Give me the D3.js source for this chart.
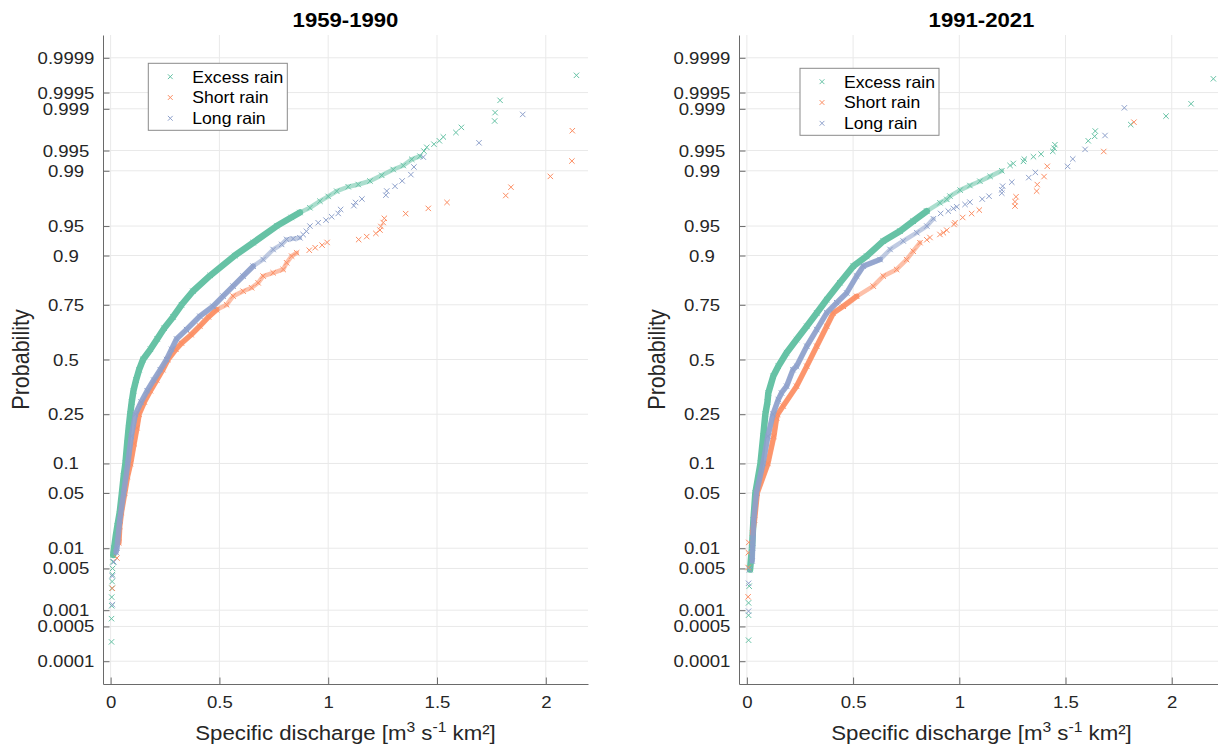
<!DOCTYPE html>
<html>
<head>
<meta charset="utf-8">
<script src="https://cdnjs.cloudflare.com/ajax/libs/d3/7.8.5/d3.min.js" type="text/javascript"></script>
<style>
body { margin: 0; background: #fff; }
svg text { font-family: "Liberation Sans", Arial, Helvetica, sans-serif; }
</style>
</head>
<body>
<div id="chart"></div>
<script type="text/javascript">
// axis ticks
var probTicks = [0.0001, 0.0005, 0.001, 0.005, 0.01, 0.05, 0.1, 0.25, 0.5, 0.75, 0.9, 0.95, 0.99, 0.995, 0.999, 0.9995, 0.9999];
var dischargeTicks = [0, 0.5, 1, 1.5, 2];
var seriesNames = ["Excess rain", "Short rain", "Long rain"];
var seriesColors = ["#66c2a5", "#fc8d62", "#8da0cb"];
var periods = ["1959-1990", "1991-2021"];

// 1959-1990 : specific discharge (q) and plotting probability (p)
var excess59Q = [0.004, 0.004, 0.005, 0.005, 0.006, 0.007, 0.008, 0.009, 0.010, 0.012, 0.016, 0.024, 0.031, 0.042, 0.052, 0.060, 0.068, 0.076, 0.083, 0.090, 0.097, 0.105, 0.117, 0.131, 0.149, 0.183, 0.214, 0.246, 0.287, 0.326, 0.378, 0.458, 0.571, 0.655, 0.763, 0.830, 0.870, 0.916, 0.962, 1.000, 1.039, 1.092, 1.138, 1.192, 1.246, 1.299, 1.345, 1.384, 1.422, 1.440, 1.453, 1.486, 1.511, 1.529, 1.587, 1.612, 1.765, 1.767, 1.790, 2.141];
var excess59P = [0.00025, 0.0007, 0.0012, 0.0017, 0.0024, 0.0031, 0.004, 0.005, 0.0063, 0.008, 0.01, 0.015, 0.02, 0.03, 0.05, 0.075, 0.1, 0.15, 0.2, 0.25, 0.3, 0.35, 0.4, 0.45, 0.5, 0.55, 0.6, 0.65, 0.7, 0.75, 0.8, 0.85, 0.9, 0.925, 0.95, 0.96, 0.965, 0.9693, 0.9745, 0.9778, 0.981, 0.9834, 0.9845, 0.9861, 0.9884, 0.9904, 0.9916, 0.9932, 0.9939, 0.9949, 0.99555, 0.99602, 0.99649, 0.99696, 0.99743, 0.99789, 0.99836, 0.99883, 0.9993, 0.99977];
var short59Q = [0.008, 0.029, 0.038, 0.042, 0.050, 0.065, 0.078, 0.092, 0.108, 0.121, 0.131, 0.155, 0.183, 0.212, 0.240, 0.264, 0.300, 0.326, 0.370, 0.410, 0.450, 0.487, 0.533, 0.563, 0.609, 0.648, 0.678, 0.701, 0.747, 0.793, 0.809, 0.832, 0.855, 0.913, 0.940, 0.972, 0.995, 1.140, 1.177, 1.219, 1.238, 1.242, 1.253, 1.258, 1.356, 1.460, 1.546, 1.816, 1.840, 2.021, 2.120, 2.122];
var short59P = [0.0024, 0.0072, 0.012, 0.02, 0.03, 0.05, 0.075, 0.1, 0.15, 0.2, 0.25, 0.3, 0.35, 0.4, 0.45, 0.5, 0.55, 0.58, 0.62, 0.66, 0.7, 0.73, 0.75, 0.7826, 0.80, 0.8117, 0.8277, 0.848, 0.8575, 0.8665, 0.8834, 0.8987, 0.9058, 0.911, 0.9159, 0.9207, 0.9255, 0.9303, 0.9351, 0.9399, 0.9447, 0.9495, 0.9543, 0.9591, 0.9639, 0.96875, 0.97356, 0.97837, 0.98317, 0.988, 0.99279, 0.9976];
var long59Q = [0.008, 0.008, 0.015, 0.025, 0.029, 0.042, 0.060, 0.079, 0.095, 0.114, 0.140, 0.168, 0.198, 0.228, 0.257, 0.280, 0.303, 0.349, 0.410, 0.471, 0.517, 0.563, 0.609, 0.655, 0.701, 0.747, 0.786, 0.809, 0.839, 0.870, 0.885, 0.900, 0.916, 0.954, 0.990, 1.016, 1.046, 1.057, 1.118, 1.126, 1.155, 1.265, 1.269, 1.307, 1.340, 1.380, 1.394, 1.437, 1.693, 1.894];
var long59P = [0.00126, 0.0038, 0.0063, 0.0088, 0.01, 0.024, 0.05, 0.1, 0.172, 0.25, 0.3, 0.35, 0.4, 0.45, 0.5, 0.55, 0.6, 0.644, 0.703, 0.744, 0.7826, 0.817, 0.848, 0.875, 0.8912, 0.9124, 0.922, 0.9306, 0.9318, 0.9332, 0.9382, 0.943, 0.95, 0.9541, 0.9571, 0.9608, 0.9641, 0.9678, 0.97103, 0.97355, 0.97607, 0.97859, 0.98111, 0.98363, 0.98615, 0.98866, 0.99118, 0.9937, 0.99622, 0.99874];

// 1991-2021
var excess91Q = [0.008, 0.008, 0.008, 0.011, 0.015, 0.024, 0.031, 0.040, 0.064, 0.077, 0.087, 0.097, 0.101, 0.124, 0.148, 0.187, 0.234, 0.282, 0.329, 0.376, 0.438, 0.501, 0.564, 0.642, 0.721, 0.783, 0.847, 0.909, 0.941, 0.956, 1.004, 1.050, 1.097, 1.145, 1.200, 1.239, 1.254, 1.302, 1.306, 1.349, 1.385, 1.440, 1.446, 1.450, 1.607, 1.637, 1.640, 1.807, 1.973, 2.091, 2.196];
var excess91P = [0.00027, 0.00081, 0.00135, 0.0026, 0.0048, 0.01, 0.024, 0.05, 0.1, 0.172, 0.25, 0.3, 0.34, 0.418, 0.467, 0.533, 0.597, 0.659, 0.717, 0.770, 0.828, 0.875, 0.8987, 0.9277, 0.9432, 0.9559, 0.9663, 0.9733, 0.9758, 0.978, 0.9816, 0.984, 0.986, 0.988, 0.99, 0.99162, 0.99216, 0.9927, 0.99324, 0.99378, 0.99432, 0.99486, 0.99541, 0.99595, 0.99649, 0.99703, 0.99757, 0.99811, 0.99865, 0.99919, 0.99973];
var short91Q = [0.006, 0.006, 0.007, 0.009, 0.027, 0.036, 0.049, 0.099, 0.127, 0.140, 0.145, 0.171, 0.234, 0.282, 0.329, 0.376, 0.407, 0.454, 0.517, 0.595, 0.642, 0.705, 0.752, 0.783, 0.815, 0.847, 0.862, 0.909, 0.925, 0.941, 0.975, 0.980, 1.016, 1.058, 1.094, 1.262, 1.262, 1.267, 1.364, 1.367, 1.399, 1.414, 1.680, 1.822];
var short91P = [0.00172, 0.00517, 0.00862, 0.01207, 0.0163, 0.024, 0.05, 0.1, 0.172, 0.236, 0.25, 0.283, 0.371, 0.467, 0.565, 0.659, 0.717, 0.744, 0.782, 0.817, 0.848, 0.8665, 0.891, 0.909, 0.925, 0.930, 0.9337, 0.9384, 0.9409, 0.9445, 0.952, 0.9541, 0.960, 0.964, 0.96724, 0.97069, 0.97414, 0.97759, 0.98103, 0.98448, 0.98793, 0.99138, 0.99483, 0.99828];
var long91Q = [0.008, 0.008, 0.012, 0.025, 0.027, 0.032, 0.045, 0.076, 0.099, 0.123, 0.148, 0.163, 0.187, 0.217, 0.234, 0.282, 0.329, 0.376, 0.423, 0.470, 0.517, 0.548, 0.627, 0.674, 0.736, 0.800, 0.847, 0.878, 0.912, 0.948, 0.972, 0.988, 1.027, 1.050, 1.108, 1.140, 1.200, 1.200, 1.204, 1.247, 1.327, 1.358, 1.510, 1.534, 1.592, 1.686, 1.777];
var long91P = [0.00096, 0.0029, 0.0048, 0.0065, 0.01, 0.024, 0.05, 0.1, 0.172, 0.25, 0.311, 0.34, 0.371, 0.45, 0.467, 0.565, 0.644, 0.717, 0.758, 0.794, 0.848, 0.875, 0.891, 0.9125, 0.928, 0.941, 0.95, 0.9586, 0.9641, 0.9663, 0.9687, 0.9701, 0.972, 0.9738, 0.97601, 0.97793, 0.97985, 0.98177, 0.98369, 0.9856, 0.98752, 0.98944, 0.99136, 0.99328, 0.9952, 0.99712, 0.99904];

var panelSeries = [
	[[excess59Q, excess59P], [short59Q, short59P], [long59Q, long59P]],
	[[excess91Q, excess91P], [short91Q, short91P], [long91Q, long91P]]
];

// layout / style settings
var settings = {
	"top": 35,
	"bottom": 684,
	"zDomain": [-4, 4],
	"stretch": 1.08,
	"axisColor": "#6a6a6a",
	"gridColor": "#e9e9e9",
	"textColor": "#262626",
	"tickLength": 6.5,
	"panels": [
		{ "left": 103, "right": 588, "xDomain": [-0.035, 2.194], "legend": [148.3, 63.3], "ylabelX": 29 },
		{ "left": 739, "right": 1224, "xDomain": [-0.037, 2.246], "legend": [800, 68.3], "ylabelX": 665 }
	],
	// dense parts of each sample drawn as a band: [start p, end of thick band, end of thin band]
	"bands": [
		[[0.008, 0.965, 0.9939], [0.012, 0.73, 0.9058], [0.0088, 0.875, 0.9332]],
		[[0.0048, 0.9663, 0.99], [0.0163, 0.782, 0.925], [0.0065, 0.891, 0.9586]]
	],
	"marker": 2.7
};

// inverse standard normal CDF (Acklam)
function norminv(p) {
	var a = [-3.969683028665376e+01, 2.209460984245205e+02, -2.759285104469687e+02, 1.383577518672690e+02, -3.066479806614716e+01, 2.506628277459239e+00];
	var b = [-5.447609879822406e+01, 1.615858368580409e+02, -1.556989798598866e+02, 6.680131188771972e+01, -1.328068155288572e+01];
	var c = [-7.784894002430293e-03, -3.223964580411365e-01, -2.400758277161838e+00, -2.549732539343734e+00, 4.374664141464968e+00, 2.938163982698783e+00];
	var d = [7.784695709041462e-03, 3.224671290700398e-01, 2.445134137142996e+00, 3.754408661907416e+00];
	var plow = 0.02425, q, r;
	if (p < plow) {
		q = Math.sqrt(-2 * Math.log(p));
		return (((((c[0]*q+c[1])*q+c[2])*q+c[3])*q+c[4])*q+c[5]) / ((((d[0]*q+d[1])*q+d[2])*q+d[3])*q+1);
	} else if (p <= 1 - plow) {
		q = p - 0.5; r = q * q;
		return (((((a[0]*r+a[1])*r+a[2])*r+a[3])*r+a[4])*r+a[5])*q / (((((b[0]*r+b[1])*r+b[2])*r+b[3])*r+b[4])*r+1);
	}
	q = Math.sqrt(-2 * Math.log(1 - p));
	return -(((((c[0]*q+c[1])*q+c[2])*q+c[3])*q+c[4])*q+c[5]) / ((((d[0]*q+d[1])*q+d[2])*q+d[3])*q+1);
}

function crossPath(s) {
	return "M" + (-s) + "," + (-s) + "L" + s + "," + s + "M" + (-s) + "," + s + "L" + s + "," + (-s);
}

var svg = d3.select("#chart").append("svg")
	.attr("width", 1218)
	.attr("height", 749);

var y = d3.scaleLinear().domain(settings.zDomain).range([settings.bottom, settings.top]);
var midY = (settings.top + settings.bottom) / 2;
var st = settings.stretch;

function drawPanel(pi) {
	var panel = settings.panels[pi];
	var x = d3.scaleLinear().domain(panel.xDomain).range([panel.left, panel.right]);
	var g = svg.append("g");
	var cx = (panel.left + panel.right) / 2;

	// grid
	var grid = g.append("g").attr("stroke", settings.gridColor).attr("stroke-width", 1);
	grid.selectAll(".gx").data(dischargeTicks).enter().append("line")
		.attr("x1", function(d) { return x(d); }).attr("x2", function(d) { return x(d); })
		.attr("y1", settings.top).attr("y2", settings.bottom);
	grid.selectAll(".gy").data(probTicks).enter().append("line")
		.attr("x1", panel.left).attr("x2", panel.right)
		.attr("y1", function(d) { return y(norminv(d)); }).attr("y2", function(d) { return y(norminv(d)); });

	// samples
	var line = d3.line()
		.x(function(d) { return x(d.q); })
		.y(function(d) { return y(norminv(d.p)); });
	panelSeries[pi].forEach(function(s, si) {
		var pts = s[0].map(function(q, i) { return { "q": q, "p": s[1][i] }; });
		var lim = settings.bands[pi][si];
		var color = seriesColors[si];
		var sg = g.append("g");
		sg.append("path")
			.datum(pts.filter(function(d) { return d.p >= lim[0] && d.p <= lim[2]; }))
			.attr("d", line).attr("fill", "none").attr("stroke", color)
			.attr("stroke-width", 4.5).attr("stroke-opacity", 0.55)
			.attr("stroke-linejoin", "round").attr("stroke-linecap", "round");
		sg.append("path")
			.datum(pts.filter(function(d) { return d.p >= lim[0] && d.p <= lim[1]; }))
			.attr("d", line).attr("fill", "none").attr("stroke", color)
			.attr("stroke-width", si === 0 ? 6.5 : 5.5).attr("stroke-opacity", si === 0 ? 1 : 0.85)
			.attr("stroke-linejoin", "round").attr("stroke-linecap", "round");
		sg.selectAll(".pt").data(pts).enter().append("path")
			.attr("transform", function(d) { return "translate(" + x(d.q) + "," + y(norminv(d.p)) + ")"; })
			.attr("d", crossPath(settings.marker))
			.attr("fill", "none").attr("stroke", color).attr("stroke-width", 1);
	});

	// x axis
	var xa = g.append("g")
		.attr("transform", "translate(0," + settings.bottom + ")")
		.call(d3.axisBottom(x).tickValues(dischargeTicks).tickFormat(d3.format(""))
			.tickSizeInner(-settings.tickLength).tickSizeOuter(0).tickPadding(11.8));
	// y axis
	var ya = g.append("g")
		.attr("transform", "translate(" + panel.left + ",0)")
		.call(d3.axisLeft(y).tickValues(probTicks.map(norminv)).tickFormat(function(d, i) { return String(probTicks[i]); })
			.tickSizeInner(-settings.tickLength).tickSizeOuter(0).tickPadding(37 / st));
	[xa, ya].forEach(function(a) {
		a.select(".domain").attr("stroke", settings.axisColor);
		a.selectAll(".tick line").attr("stroke", settings.axisColor);
		a.selectAll(".tick text")
			.style("font-size", "17.2px")
			.style("font-family", "\"Liberation Sans\", Arial, sans-serif")
			.attr("fill", settings.textColor)
			.attr("transform", "scale(" + st + ",1)");
	});
	ya.selectAll(".tick text").attr("text-anchor", "middle");

	// title
	g.append("text")
		.attr("transform", "translate(" + cx + ",27.3) scale(" + st + ",1)")
		.attr("text-anchor", "middle")
		.style("font-size", "20.5px").style("font-weight", "bold")
		.attr("fill", "#000")
		.text(periods[pi]);

	// axis labels
	var xl = g.append("text")
		.attr("transform", "translate(" + cx + ",740) scale(" + st + ",1)")
		.attr("text-anchor", "middle")
		.style("font-size", "20.6px")
		.attr("fill", settings.textColor);
	xl.append("tspan").text("Specific discharge [m");
	xl.append("tspan").attr("dy", -8).style("font-size", "14.5px").text("3");
	xl.append("tspan").attr("dy", 8).text(" s");
	xl.append("tspan").attr("dy", -8).style("font-size", "14.5px").text("-1");
	xl.append("tspan").attr("dy", 8).text(" km²]");

	g.append("text")
		.attr("transform", "translate(" + panel.ylabelX + "," + midY + ") scale(" + st + ",1) rotate(-90)")
		.attr("text-anchor", "middle")
		.style("font-size", "21.5px")
		.attr("fill", settings.textColor)
		.text("Probability");

	// legend
	var lg = g.append("g").attr("transform", "translate(" + panel.legend[0] + "," + panel.legend[1] + ")");
	lg.append("rect")
		.attr("width", 139).attr("height", 67)
		.attr("fill", "#fff").attr("stroke", "#8a8a8a").attr("stroke-width", 1);
	var rows = lg.selectAll(".legend").data(seriesNames).enter().append("g")
		.attr("class", "legend")
		.attr("transform", function(d, i) { return "translate(0," + (13.4 + i * 20.8) + ")"; });
	rows.append("path")
		.attr("transform", "translate(22,0)")
		.attr("d", crossPath(2.4))
		.attr("fill", "none")
		.attr("stroke", function(d, i) { return seriesColors[i]; })
		.attr("stroke-width", 1);
	rows.append("text")
		.attr("transform", "translate(44,0) scale(" + st + ",1)")
		.attr("dy", "0.36em")
		.style("font-size", "16.3px")
		.attr("fill", "#000")
		.text(function(d) { return d; });
}

drawPanel(0);
drawPanel(1);
</script>
</body>
</html>
